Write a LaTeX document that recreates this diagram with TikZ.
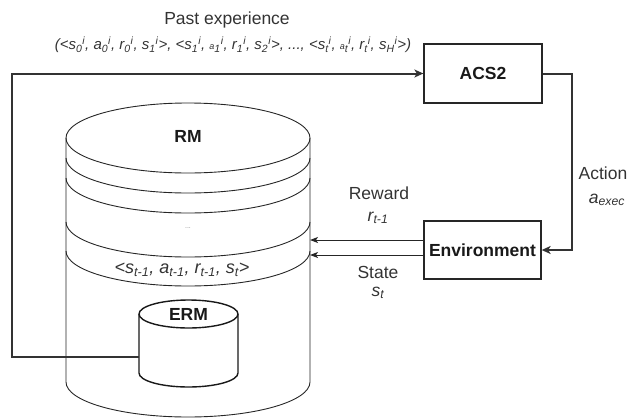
\documentclass[tikz,border=0pt]{standalone}
\usepackage{fontspec}
\setmainfont{Liberation Sans}
\usetikzlibrary{arrows.meta,calc}
\begin{document}
\begin{tikzpicture}[x=1pt,y=-1pt,
  lbl/.style={font=\fontsize{17.5}{21}\selectfont, text=black!80, inner sep=0pt},
  ttl/.style={font=\fontsize{17.5}{21}\selectfont\bfseries, text=black!90, inner sep=0pt},
  box/.style={draw=black!85, line width=1.3pt, minimum width=118pt, minimum height=59pt, font=\fontsize{17.5}{21}\selectfont\bfseries, text=black!90, inner sep=0pt},
  flow/.style={draw=black!80, line width=2pt, -{Stealth[length=9pt,width=8pt,inset=2.5pt]}},
  thinarr/.style={draw=black!85, line width=1pt, -{Stealth[length=8pt,width=6pt,inset=2pt]}},
  cyl/.style={draw=black!85, line width=0.9pt},
  ermcyl/.style={draw=black!90, line width=1.4pt},
]
\useasboundingbox (0,0) rectangle (637,418);

% big RM cylinder
\draw[cyl] (66,138) -- (66,382) arc[start angle=180, end angle=0, x radius=122, y radius=35] -- (310,138);
\draw[cyl] (188,138) ellipse [x radius=122, y radius=35];
\foreach \b in {193,213,257,286}{
  \draw[cyl] (66,\b-35) arc[start angle=180, end angle=0, x radius=122, y radius=35];
}
\coordinate (rmE) at (310,250);
\node[ttl] (rm) at (188,136) {RM};
\node[font=\fontsize{7}{8}\selectfont, text=black!45, inner sep=0pt] (dots) at (188,228) {...};
\node[lbl, font=\fontsize{18}{21}\selectfont\itshape] (cur) at (182,270)
  {<s\textsubscript{t-1}, a\textsubscript{t-1}, r\textsubscript{t-1}, s\textsubscript{t}>};

% ERM cylinder
\draw[ermcyl] (139,314) -- (139,373) arc[start angle=180, end angle=0, x radius=49.5, y radius=14] -- (238,314);
\draw[ermcyl] (188.5,314) ellipse [x radius=49.5, y radius=14];
\node[ttl] (erm) at (188.5,314) {ERM};
\coordinate (ermW) at (139,357);

% boxes
\node[box] (acs) at (483,73.5) {ACS2};
\node[box, minimum width=117pt, minimum height=58pt] (env) at (482.5,250) {Environment};

% connectors
\draw[flow] (ermW) -- ++(-127,0) |- (acs.west);
\draw[flow] (acs.east) -- ++(29,0) |- (env.east);
\draw[thinarr] ([yshift=10pt]env.west) -- ([yshift=10pt]env.west -| rmE);
\draw[thinarr] ([yshift=-5pt]env.west) -- ([yshift=-5pt]env.west -| rmE);

% labels
\node[lbl] (past) at (227,20) {Past experience};
\node[lbl, font=\fontsize{15}{18}\selectfont\itshape] (tuple) at (233,45)
  {(<s\textsubscript{0}\textsuperscript{i}, a\textsubscript{0}\textsuperscript{i}, r\textsubscript{0}\textsuperscript{i}, s\textsubscript{1}\textsuperscript{i}>, <s\textsubscript{1}\textsuperscript{i}, {\small a}\textsubscript{1}\textsuperscript{i}, r\textsubscript{1}\textsuperscript{i}, s\textsubscript{2}\textsuperscript{i}>, ..., <s\textsubscript{t}\textsuperscript{i}, {\small a}\textsubscript{t}\textsuperscript{i}, r\textsubscript{t}\textsuperscript{i}, s\textsubscript{H}\textsuperscript{i}>)};
\node[lbl] (rewl) at (379,193) {Reward};
\node[lbl, font=\fontsize{17.5}{21}\selectfont\itshape] (rewv) at (378,218) {r\textsubscript{t-1}};
\node[lbl] (statel) at (378,272) {State};
\node[lbl, font=\fontsize{17.5}{21}\selectfont\itshape] (statev) at (378,293) {s\textsubscript{t}};
\node[lbl] (actl) at (603,173) {Action};
\node[lbl, font=\fontsize{17.5}{21}\selectfont\itshape] (actv) at (607,200) {a\textsubscript{exec}};
\end{tikzpicture}
\end{document}
